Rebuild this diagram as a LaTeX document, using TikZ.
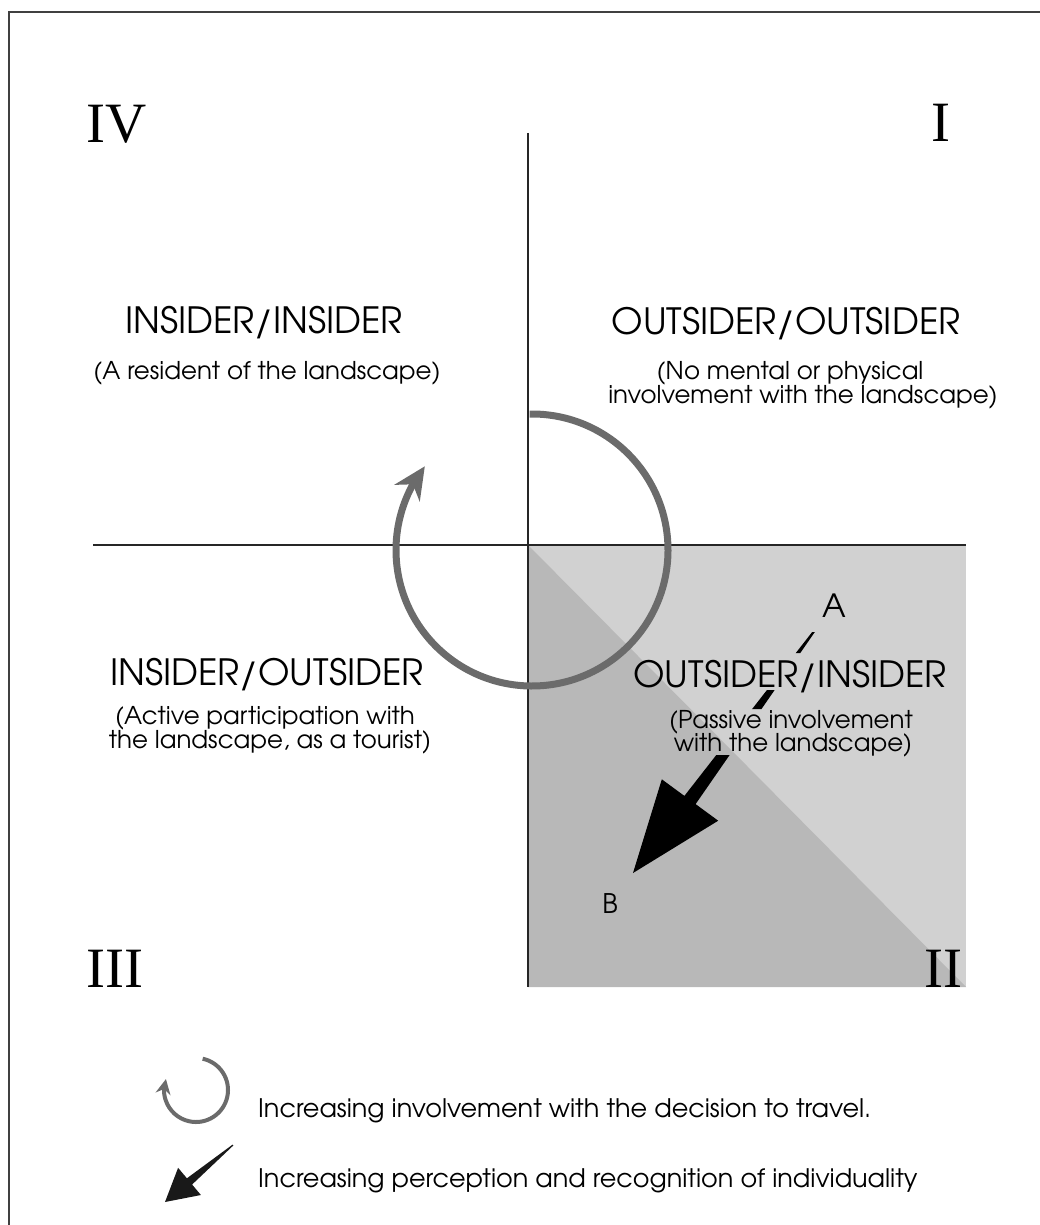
\documentclass[tikz,border=0pt]{standalone}
\usepackage{fontspec}
\usetikzlibrary{arrows.meta,bending,calc}
\newfontfamily\rfont{Liberation Serif}
\IfFontExistsTF{TeX Gyre Adventor}{%
  \newfontfamily\gfam{TeX Gyre Adventor}%
  \newcommand\tsz{36.2}\newcommand\ssz{24.5}\newcommand\lsz{25.5}%
}{%
  \IfFontExistsTF{Poppins Light}{\newfontfamily\gfam[FakeStretch=0.93]{Poppins Light}}{\newfontfamily\gfam[FakeStretch=0.93]{Poppins}}%
  \newcommand\tsz{38.6}\newcommand\ssz{25}\newcommand\lsz{26.3}%
}
\definecolor{lightshade}{gray}{0.82}
\definecolor{darkshade}{gray}{0.72}
\definecolor{ringgray}{gray}{0.42}
\tikzset{
  roman/.style={font=\rfont\fontsize{57}{60}\selectfont, inner sep=0pt},
  title/.style={font=\gfam\fontsize{\tsz}{40}\selectfont, anchor=base, inner sep=0pt},
  sub/.style={font=\gfam\fontsize{\ssz}{28}\selectfont, anchor=base, inner sep=0pt},
  legtext/.style={font=\gfam\fontsize{\lsz}{28}\selectfont, anchor=base west, inner sep=0pt},
  axisline/.style={draw=black!85, line width=1.4pt},
  frameline/.style={draw=black!75, line width=1.6pt},
  ring/.style={draw=ringgray, line width=7pt, -{Stealth[length=32pt,width=30pt]}},
  smallring/.style={draw=ringgray, line width=4pt, -{Stealth[length=15pt,width=15pt]}},
}
\begin{document}
\begin{tikzpicture}[x=1pt,y=-1pt]
\useasboundingbox (0,0) rectangle (1040,1225);
% frame (only top and left edges fall inside the picture)
\coordinate (fbl) at (9,1240);
\coordinate (ftl) at (9,12);
\coordinate (ftr) at (1050,12);
\draw[frameline] (fbl) -- (ftl) -- (ftr);
% shaded quadrant II
\coordinate (qo) at (528,545);
\coordinate (qbr) at (966,987);
\coordinate (qbl) at (528,987);
\fill[lightshade] (qo) rectangle (qbr);
\fill[darkshade] (qo) -- (qbr) -- (qbl) -- cycle;
% axes
\coordinate (vtop) at (528,133);
\coordinate (hl) at (93,545);
\coordinate (hr) at (966,545);
\draw[axisline] (vtop) -- (qbl);
\draw[axisline] (hl) -- (hr);
% roman numerals
\node[roman, anchor=base west] (n4) at (86,143) {IV};
\node[roman, anchor=base east] (n1) at (951,142) {I};
\node[roman, anchor=base west] (n3) at (86,987) {III};
\node[roman, anchor=base east] (n2) at (963,987) {II};
% quadrant labels
\node[title] (t4) at (264,333) {INSIDER/INSIDER};
\node[sub] (s4) at (267,379) {(A resident of the landscape)};
\node[title] (t1) at (786,334) {OUTSIDER/OUTSIDER};
\node[sub] (s1a) at (790,379) {(No mental or physical};
\node[sub] (s1b) at (803,403) {involvement with the landscape)};
\node[title] (t3) at (267,685) {INSIDER/OUTSIDER};
\node[sub] (s3a) at (265,724) {(Active participation with};
\node[sub] (s3b) at (270,748) {the landscape, as a tourist)};
\node[title] (t2) at (790,687) {OUTSIDER/INSIDER};
\node[sub] (s2a) at (791,728) {(Passive involvement};
\node[sub] (s2b) at (793,751) {with the landscape)};
% A and B
\node[font=\gfam\fontsize{32}{34}\selectfont, anchor=base, inner sep=0pt] (la) at (834,617) {A};
\node[font=\gfam\fontsize{27}{30}\selectfont, anchor=base, inner sep=0pt] (lb) at (610,913) {B};
% big circular arrow
\coordinate (cc) at (532,550);
\draw[ring] ($(cc)+(-91:136)$) arc[start angle=-91, end angle=218, radius=136];
% tapered arrow from A to B, hidden behind the text lines
\begin{scope}
\clip (500,632) rectangle (900,653) (500,690) rectangle (900,709) (500,755) rectangle (900,900);
\fill[black] (815.8,630.6) -- (695.6,804.1) -- (718.2,820.7) -- (633,873)
  -- (661.8,779.3) -- (684.4,795.9) -- (814.2,629.4) -- cycle;
\end{scope}
% legend
\coordinate (lc) at (196,1090);
\draw[smallring] ($(lc)+(-78:32)$) arc[start angle=-78, end angle=200, radius=32];
\fill[black!90] (233.4,1145.4) -- (192.1,1184.5) -- (200.9,1195.0) -- (165,1202)
  -- (178.1,1167.8) -- (186.9,1178.3) -- (232.6,1144.6) -- cycle;
\node[legtext] (l1) at (258,1117) {Increasing involvement with the decision to travel.};
\node[legtext] (l2) at (258,1187) {Increasing perception and recognition of individuality};
\end{tikzpicture}
\end{document}
